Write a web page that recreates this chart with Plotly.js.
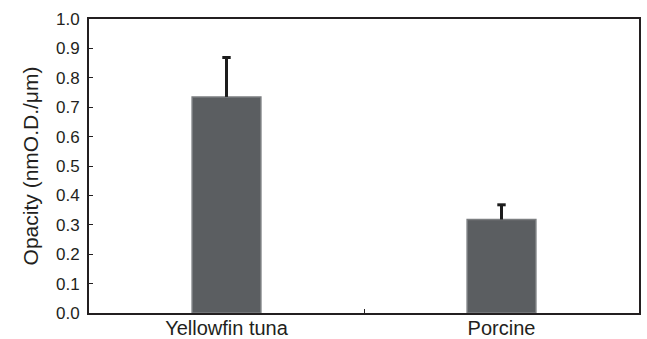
<!DOCTYPE html>
<html>
<head>
<meta charset="utf-8">
<script src="https://cdn.plot.ly/plotly-3.0.1.min.js"></script>
<style>html,body{margin:0;padding:0;background:#fff;}#chart{width:647px;height:339px;}</style>
</head>
<body>
<div id="chart"></div>
<script>
const categories = ["Yellowfin tuna", "Porcine"];
const opacityValues = [0.735, 0.318];
const opacityErrors = [0.134, 0.050];
const yTickValues = [0, 0.1, 0.2, 0.3, 0.4, 0.5, 0.6, 0.7, 0.8, 0.9, 1.0];
const yTickLabels = ["0.0", "0.1", "0.2", "0.3", "0.4", "0.5", "0.6", "0.7", "0.8", "0.9", "1.0"];

const errorTops = opacityValues.map((v, i) => v + opacityErrors[i]);

const barTrace = {
  type: "bar",
  x: categories,
  y: opacityValues,
  width: 0.25,
  marker: { color: "#5b5e61", line: { color: "#7b7e80", width: 1.5 } },
  error_y: {
    type: "data",
    symmetric: false,
    array: opacityErrors,
    arrayminus: [0, 0],
    color: "#1c1c1c",
    thickness: 3,
    width: 0
  },
  hoverinfo: "skip"
};

const capTrace = {
  type: "scatter",
  mode: "markers",
  x: categories,
  y: errorTops,
  marker: { symbol: "line-ew-open", size: 6, color: "#1c1c1c", line: { color: "#1c1c1c", width: 3 } },
  hoverinfo: "skip"
};

const layout = {
  width: 647,
  height: 339,
  margin: { l: 89, r: 8, t: 19, b: 26, pad: 0 },
  paper_bgcolor: "#ffffff",
  plot_bgcolor: "#ffffff",
  showlegend: false,
  font: { family: "Liberation Sans, Arial, sans-serif", color: "#231f20" },
  xaxis: {
    type: "category",
    range: [-0.5, 1.5],
    showline: true,
    linecolor: "#231f20",
    linewidth: 2,
    mirror: true,
    showgrid: false,
    zeroline: false,
    ticks: "inside",
    tickson: "boundaries",
    ticklen: 4,
    tickwidth: 1,
    tickcolor: "#231f20",
    tickfont: { size: 20, color: "#231f20" },
    ticklabelstandoff: -4,
    fixedrange: true
  },
  yaxis: {
    range: [0, 1.0],
    tickvals: yTickValues,
    ticktext: yTickLabels,
    showline: true,
    linecolor: "#231f20",
    linewidth: 2,
    mirror: true,
    showgrid: false,
    zeroline: false,
    ticks: "inside",
    ticklen: 4,
    tickwidth: 1,
    tickcolor: "#231f20",
    tickfont: { size: 17, color: "#231f20" },
    ticklabelstandoff: 4,
    title: { text: "Opacity (nmO.D./μm)", font: { size: 21, color: "#231f20" }, standoff: 12 },
    fixedrange: true
  }
};

Plotly.newPlot("chart", [barTrace, capTrace], layout, { displayModeBar: false, staticPlot: true });
</script>
</body>
</html>
